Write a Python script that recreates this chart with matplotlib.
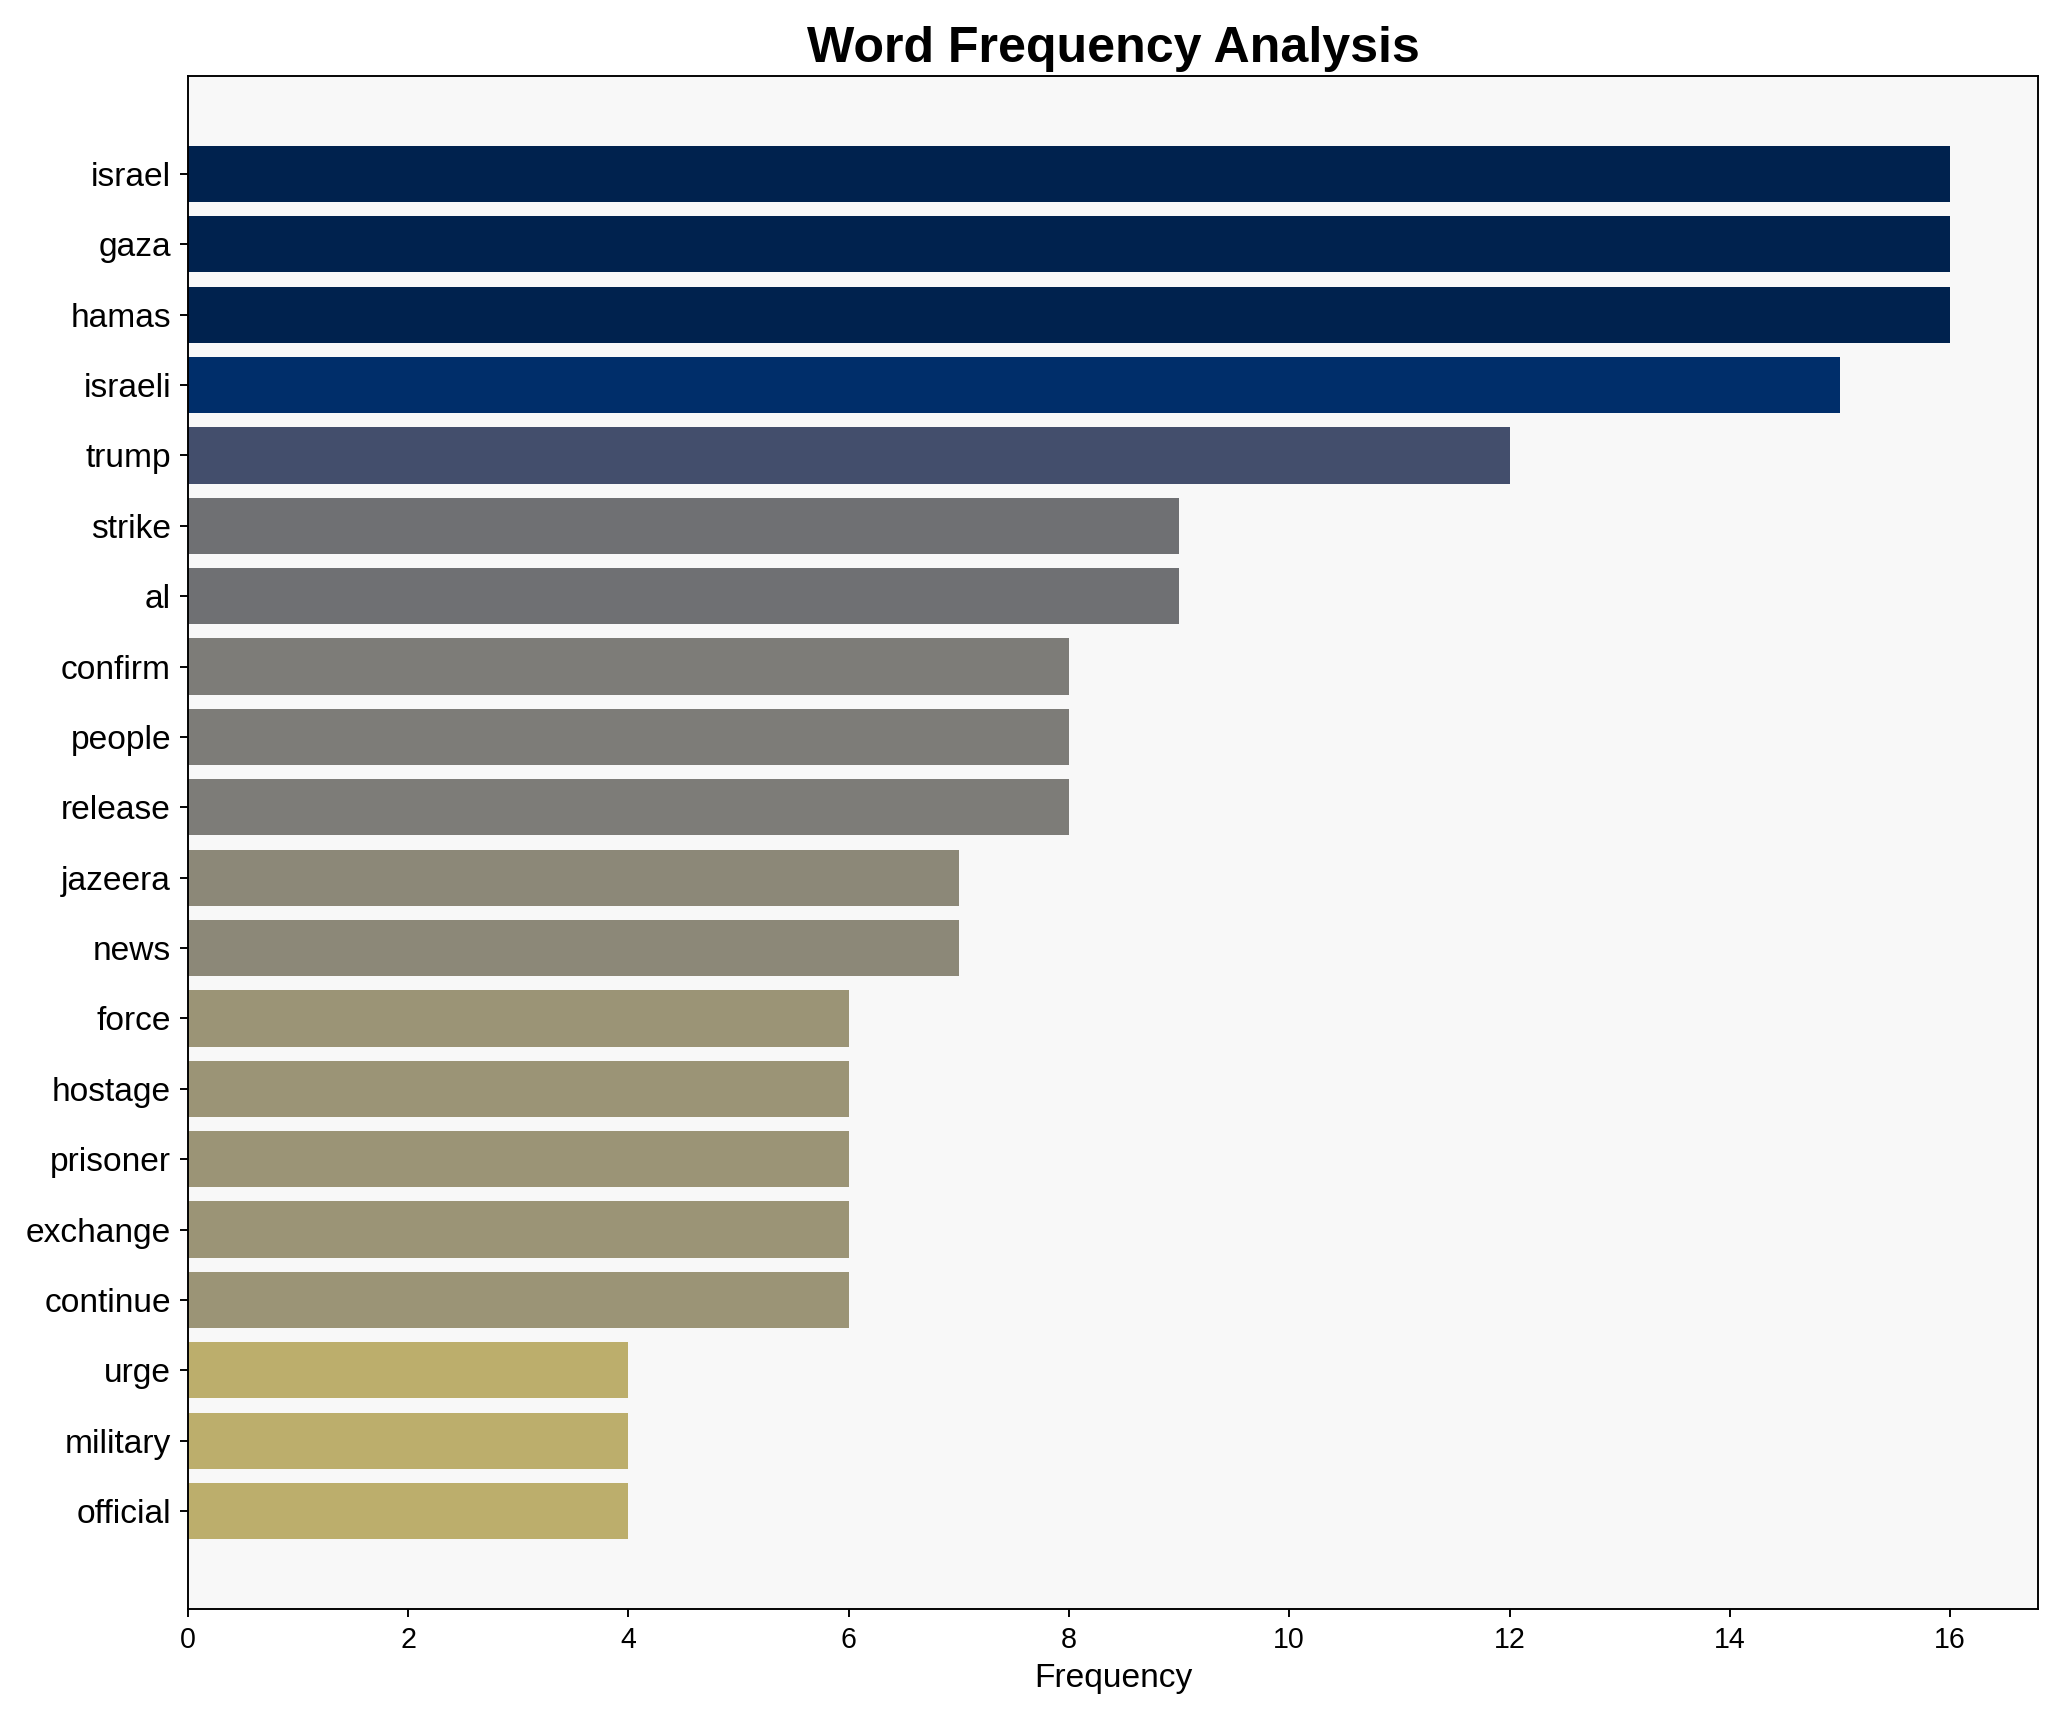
import matplotlib
matplotlib.use("Agg")
import matplotlib.pyplot as plt
import numpy as np

words = ["israel", "gaza", "hamas", "israeli", "trump", "strike", "al", "confirm",
         "people", "release", "jazeera", "news", "force", "hostage", "prisoner",
         "exchange", "continue", "urge", "military", "official"]
counts = [16, 16, 16, 15, 12, 9, 9, 8, 8, 8, 7, 7, 6, 6, 6, 6, 6, 4, 4, 4]

plt.rcParams['font.family'] = ['Liberation Sans', 'DejaVu Sans']

fig, ax = plt.subplots(figsize=(12, 10), dpi=172)
vals = np.array(counts, dtype=float)
colors = plt.cm.cividis(1 - vals / vals.max())
y = np.arange(len(words))
ax.barh(y, vals, color=colors, height=0.8)
ax.set_yticks(y)
ax.set_yticklabels(words, fontsize=14)
ax.invert_yaxis()
ax.set_facecolor('#f8f8f8')
ax.set_xlabel("Frequency", fontsize=14)
ax.tick_params(axis='x', labelsize=12)
ax.set_title("Word Frequency Analysis", fontsize=21, fontweight='bold')
fig.tight_layout()
fig.savefig("out.png", dpi=172)
